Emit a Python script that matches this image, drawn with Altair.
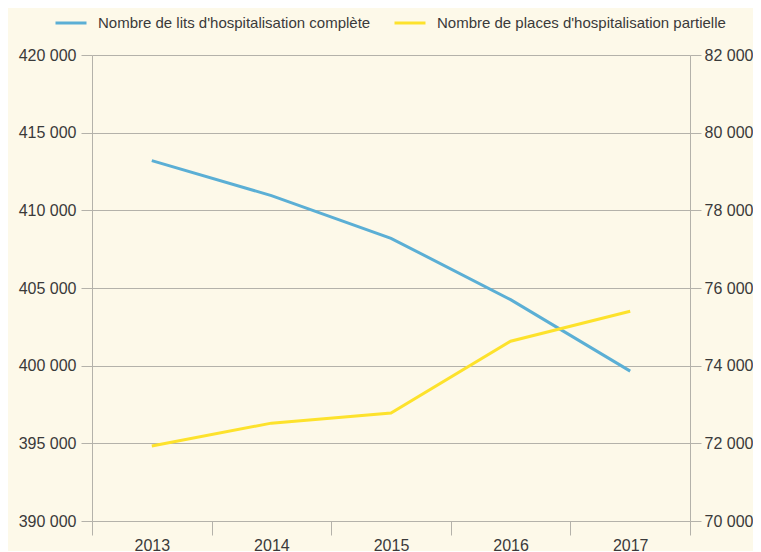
import altair as alt
import pandas as pd

years = ["2013", "2014", "2015", "2016", "2017"]
lits = [413200, 410950, 408200, 404250, 399650]
places = [71930, 72520, 72780, 74630, 75400]
series_names = ["Nombre de lits d'hospitalisation complète",
                "Nombre de places d'hospitalisation partielle"]
colors = ["#5bafd5", "#fde22c"]

df1 = pd.DataFrame({"year": years, "value": lits, "series": series_names[0]})
df2 = pd.DataFrame({"year": years, "value": places, "series": series_names[1]})

FONT = "Liberation Sans"
FS = 16
GRID = "#b4b2aa"
TXT = "#3a3a3a"
BG = "#fdf9e9"
label_expr = "replace(format(datum.value, ','), regexp(',', 'g'), ' ')"

x = alt.X("year:N", title=None,
          scale=alt.Scale(type="band", paddingInner=0, paddingOuter=0),
          axis=alt.Axis(tickBand="extent", labelAngle=0, grid=False,
                        domainColor=GRID, tickColor=GRID, tickSize=14,
                        labelPadding=2, labelFontSize=FS, labelColor=TXT,
                        labelFont=FONT))

color = alt.Color("series:N", title=None,
                  scale=alt.Scale(domain=series_names, range=colors),
                  legend=alt.Legend(orient="none", legendX=-38, legendY=-49,
                                    direction="horizontal", symbolType="stroke",
                                    symbolSize=961, symbolStrokeWidth=3,
                                    labelFont=FONT, labelFontSize=15,
                                    labelColor=TXT, labelOffset=10,
                                    columnPadding=17, labelLimit=400))

left = alt.Chart(df1).mark_line(strokeWidth=3).encode(
    x=x,
    y=alt.Y("value:Q", title=None,
            scale=alt.Scale(domain=[390000, 420000], nice=False, zero=False),
            axis=alt.Axis(orient="left", values=list(range(390000, 420001, 5000)),
                          labelExpr=label_expr, grid=True, gridColor=GRID,
                          domainColor=GRID, tickColor=GRID, tickSize=11,
                          labelPadding=5, labelFontSize=FS, labelColor=TXT,
                          labelFont=FONT)),
    color=color,
)

right = alt.Chart(df2).mark_line(strokeWidth=3).encode(
    x=x,
    y=alt.Y("value:Q", title=None,
            scale=alt.Scale(domain=[70000, 82000], nice=False, zero=False),
            axis=alt.Axis(orient="right", values=list(range(70000, 82001, 2000)),
                          labelExpr=label_expr, grid=False,
                          domainColor=GRID, tickColor=GRID, tickSize=11,
                          labelPadding=3, labelFontSize=FS, labelColor=TXT,
                          labelFont=FONT)),
    color=color,
)

chart = alt.layer(left, right).resolve_scale(y="independent").properties(
    width=598, height=466,
    autosize=alt.AutoSizeParams(type="none"),
    padding={"left": 84, "top": 47, "right": 63, "bottom": 30},
    background=BG,
    usermeta={"embedOptions": {"defaultStyle":
        "body{background:%s;margin:8px 8px 0 8px;} svg{overflow:visible;}" % BG}},
).configure_view(stroke=None)

chart.save("out.html", embed_options={"renderer": "svg", "actions": False})
